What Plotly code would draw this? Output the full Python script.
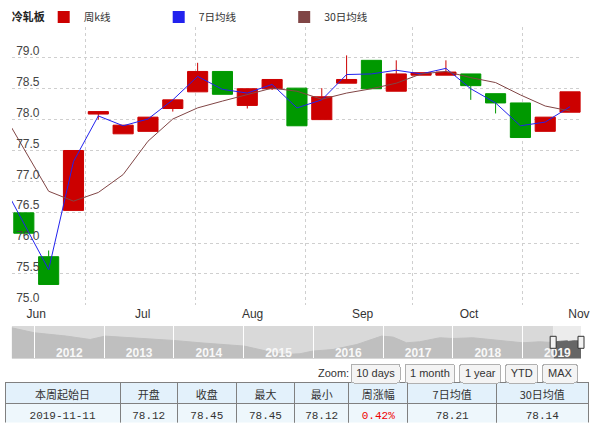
import plotly.graph_objects as go
import pandas as pd

# ---------------- data ----------------
week_start = pd.date_range("2019-06-10", periods=23, freq="7D")   # 本周起始日
open_ = [76.49, 75.78, 76.53, 78.09, 77.77, 77.81, 78.18, 78.45, 78.78, 78.23, 78.50, 78.51,
         78.00, 78.59, 78.96, 78.46, 78.72, 78.72, 78.74, 78.42, 78.27, 77.81, 78.12]
close = [76.16, 75.33, 77.50, 78.13, 77.91, 78.04, 78.32, 78.78, 78.41, 78.50, 78.65, 77.90,
         78.37, 78.65, 78.50, 78.74, 78.76, 78.77, 78.55, 78.27, 77.71, 78.04, 78.45]
high = [76.49, 75.88, 77.50, 78.13, 77.91, 78.04, 78.32, 78.92, 78.78, 78.50, 78.65, 78.51,
        78.51, 79.04, 78.96, 78.96, 78.76, 78.96, 78.74, 78.42, 78.27, 78.04, 78.45]
low = [76.16, 75.33, 76.53, 78.00, 77.77, 77.81, 78.13, 78.45, 78.41, 78.18, 78.48, 77.90,
       78.00, 78.59, 78.50, 78.46, 78.72, 78.72, 78.32, 78.10, 77.71, 77.81, 78.12]

ma_week_start = pd.date_range("2019-06-03", periods=24, freq="7D")
ma7 = [77.07, 76.33, 75.57, 77.32, 78.06, 77.90, 78.01, 78.32, 78.70, 78.49, 78.43, 78.57,
       78.19, 78.32, 78.73, 78.74, 78.80, 78.74, 78.83, 78.50, 78.27, 77.90, 77.96, 78.21]
ma30 = [78.22, 77.53, 76.84, 76.68, 76.82, 77.11, 77.65, 78.01, 78.19, 78.30, 78.41, 78.51,
        78.46, 78.33, 78.43, 78.50, 78.59, 78.74, 78.78, 78.68, 78.60, 78.40, 78.22, 78.14]

# navigator history (2011-2019)
nav_dates = ["2011-09-04", "2012-01-01", "2012-06-18", "2012-10-19", "2013-01-05", "2013-06-01",
             "2014-01-03", "2014-05-17", "2015-01-04", "2015-05-01", "2015-07-27", "2015-10-23",
             "2015-12-29", "2016-04-13", "2016-08-16", "2016-12-23", "2017-02-22", "2017-05-03",
             "2017-07-11", "2017-10-24", "2018-01-01", "2018-04-15", "2018-09-03", "2019-01-01",
             "2019-04-01", "2019-06-06"]
nav_vals = [98.3, 90.8, 85.8, 80.7, 85.8, 83.3, 79.2, 75.8, 70.8, 63.3, 58.2, 59.3,
            63.3, 65.7, 73.2, 85.8, 84.3, 75.8, 77.3, 83.3, 82.2, 83.3, 79.2, 75.8,
            77.3, 77.0]

month_labels = ["Jun", "Jul", "Aug", "Sep", "Oct", "Nov"]
month_label_pos = ["2019-06-17", "2019-07-17", "2019-08-17", "2019-09-17", "2019-10-17", "2019-11-17"]
month_starts = ["2019-07-01", "2019-08-01", "2019-09-01", "2019-10-01", "2019-11-01"]
y_ticks = [75.0, 75.5, 76.0, 76.5, 77.0, 77.5, 78.0, 78.5, 79.0, 79.5]
y_labels = ["75.0", "75.5", "76.0", "76.5", "77.0", "77.5", "78.0", "78.5", "79.0", ""]

table_header = ["本周起始日", "开盘", "收盘", "最大", "最小", "周涨幅", "7日均值", "30日均值"]
table_row = ["2019-11-11", "78.12", "78.45", "78.45", "78.12", "0.42%", "78.21", "78.14"]

# ---------------- styling ----------------
W, H = 600, 433
ML, MR, MT, MB = 5, 12, 26.8, 9.7


def px(x):
    return (x - ML) / (W - ML - MR)


def py(y):
    return (H - MB - y) / (H - MT - MB)


RED = "#cc0000"
GREEN = "#009900"
BLUE = "#2222ee"
BROWN = "#804545"
GRID = "#cfcfcf"
CJK = "Noto Sans CJK SC"
LAT = "Liberation Sans"
X0, X1 = "2019-06-10 04:00", "2019-11-17 14:00"
NAV0, NAV1 = "2011-09-04", "2019-11-03"

candle_x = week_start + pd.Timedelta(hours=84)
ma_x = ma_week_start + pd.Timedelta(hours=84)

fig = go.Figure()

fig.add_trace(go.Candlestick(
    x=candle_x, open=open_, high=high, low=low, close=close, name="周k线",
    increasing=dict(line=dict(color=RED, width=1), fillcolor=RED),
    decreasing=dict(line=dict(color=GREEN, width=1), fillcolor=GREEN),
    whiskerwidth=0, showlegend=False, legendgroup="k", xaxis="x", yaxis="y"))
fig.add_trace(go.Scatter(x=ma_x, y=ma7, mode="lines", name="7日均线", line=dict(color=BLUE, width=1),
                         showlegend=False, legendgroup="ma7", xaxis="x", yaxis="y"))
fig.add_trace(go.Scatter(x=ma_x, y=ma30, mode="lines", name="30日均线", line=dict(color=BROWN, width=1),
                         showlegend=False, legendgroup="ma30", xaxis="x", yaxis="y3"))

# legend entries (square swatches)
for nm, col, grp, lg in [("周k线", RED, "k", "legend"), ("7日均线", BLUE, "ma7", "legend2"),
                         ("30日均线", BROWN, "ma30", "legend3")]:
    fig.add_trace(go.Scatter(x=[None], y=[None], mode="markers", name=nm, legendgroup=grp, legend=lg,
                             marker=dict(symbol="square", size=12, color=col), xaxis="x", yaxis="y"))

# navigator
hist_x = list(pd.to_datetime(nav_dates)) + [candle_x[0]]
hist_y = nav_vals + [close[0]]
fig.add_trace(go.Scatter(x=hist_x, y=hist_y, mode="lines", fill="tozeroy", fillcolor="#bfbfbf",
                         line=dict(color="#bfbfbf", width=1), showlegend=False, hoverinfo="skip",
                         xaxis="x2", yaxis="y2"))
fig.add_trace(go.Scatter(x=candle_x, y=close, mode="lines", fill="tozeroy", fillcolor="#666666",
                         line=dict(color="#666666", width=1), showlegend=False, hoverinfo="skip",
                         xaxis="x2", yaxis="y2"))

# table
col_widths = [115.1, 57.2, 59, 58.3, 54.1, 59.1, 88.7, 91.5]
cell_colors = ["#333333"] * 5 + ["#ee0000"] + ["#333333"] * 2
fig.add_trace(go.Table(
    domain=dict(x=[0, 1], y=[0, py(382.7)]),
    columnwidth=col_widths,
    header=dict(values=table_header, fill_color="#e3f1fb", line=dict(color="#808080", width=1),
                height=20.6, align="center", font=dict(family=CJK, size=11, color="#333333")),
    cells=dict(values=[[v] for v in table_row], fill_color="#eef7fc", line=dict(color="#808080", width=1),
               height=20, align="center", font=dict(family="Liberation Mono", size=11, color=cell_colors)),
))

shapes = [
    dict(type="rect", xref="x2", yref="y2 domain", x0=NAV0, x1=X0, y0=0, y1=1,
         fillcolor="#d9d9d9", line=dict(width=0), layer="below"),
    dict(type="rect", xref="x2", yref="y2 domain", x0=X0, x1=X1, y0=0, y1=1,
         fillcolor="#ececec", line=dict(width=0), layer="below"),
    dict(type="rect", xref="x2", yref="y2 domain", xsizemode="pixel", ysizemode="pixel",
         xanchor=X0, x0=-3, x1=3, yanchor=0.5, y0=-6, y1=6,
         fillcolor="#f2f2f2", line=dict(color="#333333", width=1), layer="above"),
    dict(type="rect", xref="x2 domain", yref="y2 domain", xsizemode="pixel", ysizemode="pixel",
         xanchor=1, x0=-3, x1=3, yanchor=0.5, y0=-6, y1=6,
         fillcolor="#f2f2f2", line=dict(color="#333333", width=1), layer="above"),
]

legend_common = dict(orientation="h", xanchor="left", yanchor="middle", bgcolor="rgba(0,0,0,0)",
                     font=dict(family=CJK, size=10.5, color="#333333"), y=py(16.7))

fig.update_layout(
    width=W, height=H,
    margin=dict(l=ML, r=MR, t=MT, b=MB, autoexpand=False),
    paper_bgcolor="white", plot_bgcolor="white",
    title=dict(text="<b>冷轧板</b>", x=11.7 / W, xref="container", xanchor="left",
               y=1 - 16.7 / H, yref="container", yanchor="middle",
               font=dict(family=CJK, size=11, color="#222222")),
    legend=dict(x=px(43.7), **legend_common),
    legend2=dict(x=px(158.7), **legend_common),
    legend3=dict(x=px(284.2), **legend_common),
    boxgap=0.19, boxgroupgap=0,
    xaxis=dict(
        domain=[px(12), px(581)], anchor="y", type="date", range=[X0, X1],
        tickmode="array", tickvals=month_label_pos, ticktext=month_labels,
        showgrid=False, ticks="", zeroline=False, showline=False,
        tickfont=dict(family=LAT, size=12, color="#333333"),
        minor=dict(tickmode="array", tickvals=month_starts, showgrid=True, gridcolor=GRID,
                   griddash="3px,3px", gridwidth=1, ticks=""),
        rangeslider=dict(visible=False),
        rangeselector=dict(
            buttons=[dict(count=10, label="10 days", step="day", stepmode="backward"),
                     dict(count=1, label="1 month", step="month", stepmode="backward"),
                     dict(count=1, label="1 year", step="year", stepmode="backward"),
                     dict(count=1, label="YTD", step="year", stepmode="todate"),
                     dict(label="MAX", step="all")],
            x=px(581), xanchor="right", y=py(382), yanchor="bottom",
            bgcolor="#f4f4f4", activecolor="#dddddd", bordercolor="#b0b0b0", borderwidth=1,
            font=dict(family=LAT, size=11, color="#333333")),
    ),
    yaxis=dict(
        domain=[py(305), 1], anchor="x", range=[75, 79.5],
        tickmode="array", tickvals=y_ticks, showticklabels=False,
        showgrid=True, gridcolor=GRID, griddash="3px,3px", gridwidth=1,
        zeroline=False, showline=False, ticks="",
    ),
    yaxis3=dict(
        overlaying="y", anchor="free", position=px(39.5), side="left", range=[75, 79.5],
        tickmode="array", tickvals=y_ticks, ticktext=y_labels, ticklabelshift=-7,
        showgrid=False, zeroline=False, showline=False, ticks="",
        tickfont=dict(family=LAT, size=12, color="#444444"),
    ),
    xaxis2=dict(
        domain=[px(11.7), px(581)], anchor="y2", type="date", range=[NAV0, NAV1],
        dtick="M12", tick0="2012-01-01", tickformat="%Y", ticklabelmode="period",
        ticks="inside", ticklen=33, tickcolor="white", tickwidth=1,
        ticklabelposition="inside", ticklabelstandoff=-35,
        showgrid=False, zeroline=False, showline=False, fixedrange=True,
        tickfont=dict(family=LAT, size=12, color="#f8f8f8", weight="bold"),
    ),
    yaxis2=dict(domain=[py(358.7), py(326.3)], anchor="x2", range=[52.2, 100.8],
                visible=False, fixedrange=True),
    shapes=shapes,
    annotations=[dict(text="Zoom:", xref="paper", yref="paper", x=px(351), y=py(373),
                      xanchor="right", yanchor="middle", showarrow=False,
                      font=dict(family=LAT, size=11, color="#333333"))],
)

fig.write_html("out.html")
